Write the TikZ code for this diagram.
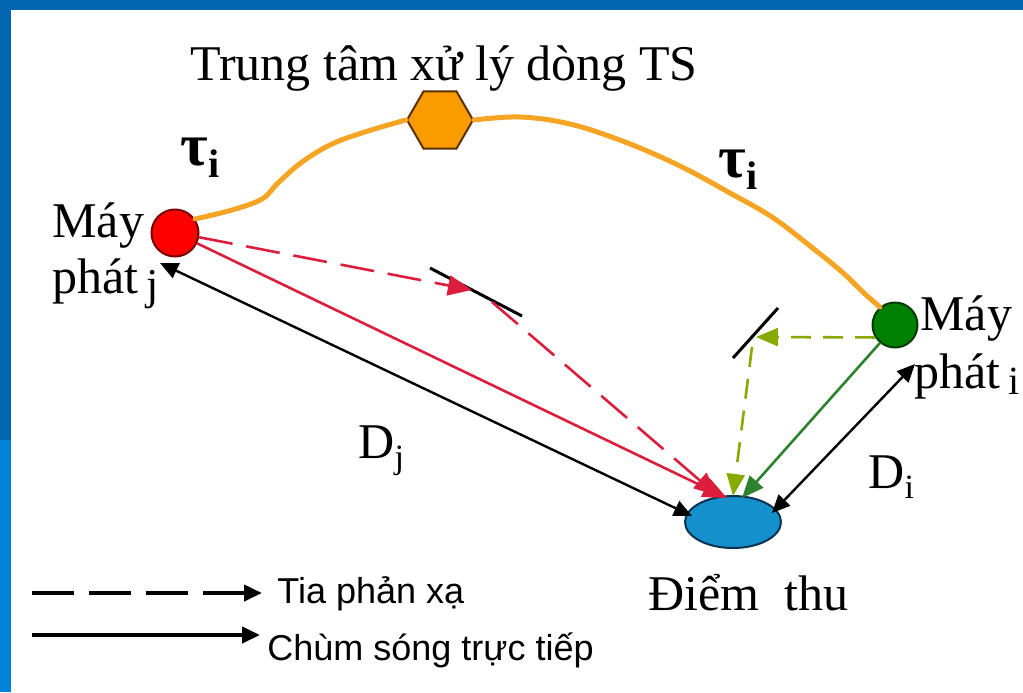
\documentclass[tikz,border=0pt]{standalone}
\usepackage{fontspec}
\setmainfont{Liberation Serif}
\newfontfamily\legendfont{Liberation Sans}
\usetikzlibrary{arrows.meta,shapes.geometric}
\definecolor{frameDark}{RGB}{0,102,176}
\definecolor{frameLight}{RGB}{0,130,214}
\definecolor{linkOrange}{RGB}{245,165,35}
\definecolor{hexFill}{RGB}{250,155,0}
\definecolor{hexLine}{RGB}{90,50,0}
\definecolor{txRed}{RGB}{255,0,0}
\definecolor{txRedLine}{RGB}{120,0,0}
\definecolor{rayRed}{RGB}{220,30,60}
\definecolor{txGreen}{RGB}{0,128,0}
\definecolor{txGreenLine}{RGB}{0,60,0}
\definecolor{rayGreen}{RGB}{45,130,45}
\definecolor{rayOlive}{RGB}{135,170,0}
\definecolor{rxBlue}{RGB}{20,145,205}
\definecolor{rxLine}{RGB}{10,50,80}
\tikzset{
  lbl/.style={inner sep=0pt, anchor=base west, font=\fontsize{25}{28}\selectfont},
  tau/.style={inner sep=0pt, font=\fontsize{30}{30}\selectfont\bfseries},
  direct/.style={line width=1.2pt, draw=black, {Triangle[length=9pt,width=8pt]}-{Triangle[length=9pt,width=8pt]}},
  redray/.style={line width=1.3pt, draw=rayRed, -{Triangle[length=12pt,width=10pt]}},
  redrefl/.style={redray, dash pattern=on 17pt off 7pt},
  greenray/.style={line width=1.3pt, draw=rayGreen, -{Triangle[length=11pt,width=9pt]}},
  oliverefl/.style={line width=1.3pt, draw=rayOlive, dash pattern=on 10pt off 6pt, -{Triangle[length=11pt,width=9pt]}},
  mirror/.style={line width=1.5pt, draw=black},
  link/.style={line width=2.5pt, draw=linkOrange, line cap=round},
  legendline/.style={line width=2pt, draw=black, -{Triangle[length=9pt,width=8pt]}},
  legtext/.style={inner sep=0pt, anchor=base west, font=\legendfont\fontsize{18}{18}\selectfont},
}
\begin{document}
\begin{tikzpicture}[x=0.5pt,y=-0.5pt]
\useasboundingbox (0,0) rectangle (1023,692);
% frame
\fill[white] (0,0) rectangle (1023,692);
\fill[frameDark] (0,0) rectangle (1023,10);
\fill[frameDark] (0,0) rectangle (11,440);
\fill[frameLight] (0,440) rectangle (11,692);

% nodes
\node[regular polygon, regular polygon sides=6, minimum size=33pt, inner sep=0pt,
      fill=hexFill, draw=hexLine, line width=1pt] (hex) at (440,120) {};
\node[circle, minimum size=23.5pt, inner sep=0pt, fill=txRed, draw=txRedLine, line width=1pt] (red) at (175,233) {};
\node[circle, minimum size=22.5pt, inner sep=0pt, fill=txGreen, draw=txGreenLine, line width=1pt] (green) at (895,325) {};
\node[ellipse, minimum width=48pt, minimum height=26pt, inner sep=0pt, fill=rxBlue, draw=rxLine, line width=1pt] (recv) at (733,522) {};

% texts
\node[lbl] (title) at (190,80) {Trung tâm xử lý dòng TS};
\node[lbl] (ljMay) at (52,237) {Máy};
\node[lbl] (ljPhat) at (52,293) {phát\,\raisebox{-3pt}{\fontsize{22}{22}\selectfont j}};
\node[lbl] (riMay) at (920,330) {Máy};
\node[lbl] (riPhat) at (914,388) {phát\,\raisebox{-3pt}{\fontsize{20}{20}\selectfont i}};
\node[lbl] (dj) at (358,458) {D\raisebox{-5pt}{\fontsize{17}{17}\selectfont j}};
\node[lbl] (di) at (868,488) {D\raisebox{-5pt}{\fontsize{17}{17}\selectfont i}};
\node[lbl] (rxText) at (648,610) {Điểm\ \ thu};
\node[tau] (tauL) at (200,158) {τ\raisebox{-6pt}{\fontsize{20}{20}\selectfont i}};
\node[tau] (tauR) at (738,170) {τ\raisebox{-6pt}{\fontsize{20}{20}\selectfont i}};

% orange links
\draw[link] plot[smooth, tension=0.6] coordinates {(red.35) (232,210) (262,199) (278,183) (302,162) (332,144) (368,131) (hex.west)};
\draw[link] plot[smooth, tension=0.6] coordinates {(hex.east) (520,117) (570,124) (625,142) (680,166) (730,193) (772,217) (810,246) (842,272) (865,294) (green.130)};

% mirrors
\coordinate (m1a) at (430,268);
\coordinate (m1b) at (522,316);
\coordinate (m1) at (472,290);
\coordinate (m1o) at (492,302);
\draw[mirror] (m1a) -- (m1b);
\coordinate (m2a) at (733,358);
\coordinate (m2b) at (778,308);
\coordinate (m2) at (756,337);
\coordinate (m2o) at (752,347);
\draw[mirror] (m2a) -- (m2b);

% arrow end points
\coordinate (rTip) at (160,263);
\coordinate (rxL) at (692,516);
\coordinate (rxR) at (772,513);
\coordinate (gTip) at (915,364);
\coordinate (rxRed) at (727,498);
\coordinate (rxRedD) at (718,496);
\coordinate (rxOlive) at (733,496);
\coordinate (rxGreen) at (742,498);

% direct black (D_j, D_i)
\draw[direct] (rTip) -- (rxL);
\draw[direct] (rxR) -- (gTip);

% red rays
\draw[redray] (red.-25) -- (rxRed);
\draw[redrefl] (red.-10) -- (m1);
\draw[redrefl] (m1o) -- (rxRedD);

% green rays
\draw[greenray] (green.-130) -- (rxGreen);
\draw[oliverefl] (green.-148) -- (m2);
\draw[oliverefl] (m2o) -- (rxOlive);

% legend
\coordinate (lg1a) at (32,593);
\coordinate (lg1b) at (262,593);
\coordinate (lg2a) at (32,635);
\coordinate (lg2b) at (260,635);
\draw[legendline, dash pattern=on 21pt off 7.5pt] (lg1a) -- (lg1b);
\draw[legendline] (lg2a) -- (lg2b);
\node[legtext] (lgRefl) at (277,603) {Tia phản xạ};
\node[legtext] (lgDirect) at (267,660) {Chùm sóng trực tiếp};
\end{tikzpicture}
\end{document}
